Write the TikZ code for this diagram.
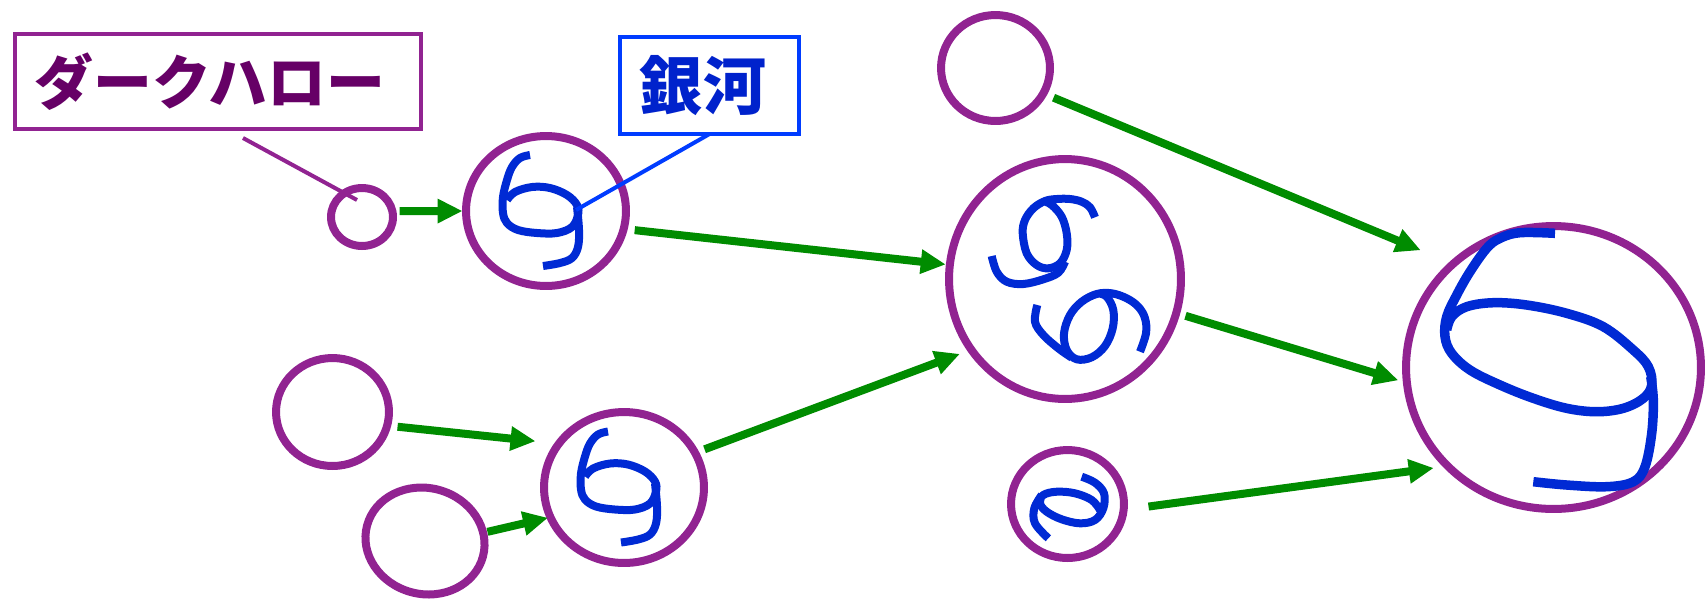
\documentclass[tikz,border=0pt]{standalone}
\usepackage{fontspec}
\newfontfamily\jp{Noto Sans CJK JP}
\usetikzlibrary{shapes.geometric,arrows.meta}
\definecolor{halo}{RGB}{145,35,145}
\definecolor{halotext}{RGB}{102,0,102}
\definecolor{galblue}{RGB}{0,42,212}
\definecolor{boxblue}{RGB}{0,60,255}
\definecolor{gxtext}{RGB}{0,34,204}
\definecolor{arrgreen}{RGB}{0,140,0}
\tikzset{
  halo/.style={ellipse, draw=halo, line width=0.16cm, inner sep=0pt, outer sep=0pt},
  ell/.style 2 args={minimum width={#1*0.04cm}, minimum height={#2*0.04cm}},
  galstroke/.style={draw=galblue, line width=0.16cm, line join=round},
  bigstroke/.style={draw=galblue, line width=0.19cm, line join=round},
  flow/.style={draw=arrgreen, line width=0.16cm, -{Triangle[length=0.5cm,width=0.46cm]}},
  dhbox/.style={draw=halo, line width=0.09cm, minimum width=8.12cm, minimum height=1.9cm,
    inner sep=0pt, outer sep=0pt, text=halotext, font=\jp\bfseries\fontsize{33.5}{36}\selectfont},
  gxbox/.style={draw=boxblue, line width=0.09cm, minimum width=3.58cm, minimum height=1.94cm,
    inner sep=0pt, outer sep=0pt, text=gxtext, font=\jp\bfseries\fontsize{36}{40}\selectfont},
  dhlead/.style={draw=halo, line width=0.08cm},
  gxlead/.style={draw=boxblue, line width=0.08cm},
  gal6/.pic={
    \draw[galstroke] plot[smooth, tension=0.6] coordinates {(-16,-56) (-26,-53) (-34,-44) (-39,-31) (-43,-14) (-43,2) (-39,12) (-28,19) (-9,22) (11,22) (26,16) (32,4) (31,-6) (21,-16) (4,-23) (-14,-24) (-31,-19) (-39,-11)};
    \draw[galstroke] plot[smooth, tension=0.6] coordinates {(31,-4) (33,19) (32,36) (26,47) (14,52) (-3,55)};
  }
}
\begin{document}
\begin{tikzpicture}[x=0.02cm,y=-0.02cm]
\path[use as bounding box, fill=white] (0,0) rectangle (1706,600);

% halos
\node[halo, ell={31}{29}] (hA) at (362,217) {};
\node[halo, ell={80}{75}] (hB) at (546,211) {};
\node[halo, ell={54.5}{53}] (hC) at (995.5,68) {};
\node[halo, ell={116}{120}] (hD) at (1065,279) {};
\node[halo, ell={147.5}{141.5}] (hE) at (1553.5,367.5) {};
\node[halo, ell={56.5}{54}] (hF) at (332.5,412) {};
\node[halo, ell={60}{53}, rotate=-15] (hG) at (425,541) {};
\node[halo, ell={80}{75.5}] (hH) at (624,487.5) {};
\node[halo, ell={56.5}{54}] (hI) at (1067.5,504) {};

% galaxies
\pic at (hB) {gal6};
\pic at (hH) {gal6};
\draw[galstroke] plot[smooth, tension=0.6] coordinates {(1095,217.3) (1090,207.3) (1081.7,201.7) (1070,199) (1056.7,199) (1045,201) (1033.3,208.3) (1025,220) (1022.7,233.3) (1026.7,253.3) (1036.7,265) (1048.3,268.3) (1060,263.3) (1066.7,250) (1066.7,233.3) (1061.7,216.7) (1051.7,205) (1043.3,201)};
\draw[galstroke] plot[smooth, tension=0.6] coordinates {(1065,261.7) (1058.3,272.7) (1043.3,279.3) (1023.3,284) (1006.7,281.7) (996.7,271.7) (991.7,256)};
\draw[galstroke] plot[smooth, tension=0.6] coordinates {(1140,351.7) (1146,333.3) (1145,318.3) (1138.3,306.7) (1126.7,298.3) (1111.7,293.3) (1096.7,294) (1081.7,301.7) (1070,315) (1064,333.3) (1066.7,350) (1076.7,359.3) (1091.7,357.3) (1105,346) (1112.7,328.3) (1113.3,310) (1106.7,296.7) (1098.3,293.3)};
\draw[galstroke] plot[smooth, tension=0.6] coordinates {(1037.3,305) (1035,321.7) (1043.3,335) (1058.3,348.3) (1071.7,357.7)};
\draw[galstroke] plot[smooth, tension=0.6] coordinates {(1081.7,476.7) (1095,482.7) (1104,493.3) (1103.3,508.3) (1095,520) (1080,523.3) (1061.7,519.3) (1046.7,511.7) (1040,503.3) (1043.3,495) (1056.7,491.7) (1075,493.3) (1091.7,500) (1100,510)};
\draw[galstroke] plot[smooth, tension=0.6] coordinates {(1041.7,495) (1034.3,508.3) (1035,523.3) (1048.3,538.3)};
\draw[bigstroke] plot[smooth, tension=0.6] coordinates {(1555,233.3) (1520,232.7) (1500,238.3) (1486.7,248.3) (1470,271.7) (1456.7,295) (1446.7,316.7) (1445,336.7) (1451.7,353.3) (1470,370) (1500,385) (1533.3,398.3) (1566.7,408.3) (1596.7,411.7) (1623.3,408.3) (1643.3,398.3) (1651.7,385) (1648.3,366.7) (1633.3,350) (1603.3,326.7) (1566.7,313.3) (1526.7,305) (1493.3,302.7) (1466.7,306.7) (1451.7,316.7) (1446.7,330)};
\draw[bigstroke] plot[smooth, tension=0.6] coordinates {(1650.7,376.7) (1653.3,400) (1651.7,433.3) (1645,466.7) (1633.3,481.7) (1606.7,486.7) (1566.7,485) (1533.3,481.7)};

% merger arrows
\draw[flow, shorten <=0.144cm, shorten >=0.07cm] (hA.11) -- (hB.180);
\draw[flow, shorten <=0.222cm, shorten >=0.083cm] (hB.-13.5) -- (hD.173.8);
\draw[flow, shorten <=0.222cm, shorten >=0.706cm] (hC.-28.1) -- (hE.134.1);
\draw[flow, shorten <=0.194cm, shorten >=0.18cm] (hD.-17) -- (hE.186.7);
\draw[flow, shorten <=0.209cm, shorten >=0.471cm] (hF.-14.2) -- (hH.146.1);
\draw[flow, shorten <=0.089cm, shorten >=0.051cm] (hG.23.7) -- (hH.202.9);
\draw[flow, shorten <=0.203cm, shorten >=0.243cm] (hH.26.1) -- (hD.217.5);
\draw[flow, shorten <=0.502cm, shorten >=0.283cm] (hI.-6.4) -- (hE.223.4);

% labels
\node[dhbox] (dh) at (218,81.5) {\kern-0.32cm ダークハロー};
\node[gxbox] (gx) at (709.5,85.5) {\kern-0.26cm 銀河};
\coordinate (dhtip) at (357,200);
\coordinate (gxtip) at (576,210);
\draw[dhlead] ([shift={(25,9)}]dh.south) -- (dhtip);
\draw[gxlead] (gx.south) -- (gxtip);
\end{tikzpicture}
\end{document}
